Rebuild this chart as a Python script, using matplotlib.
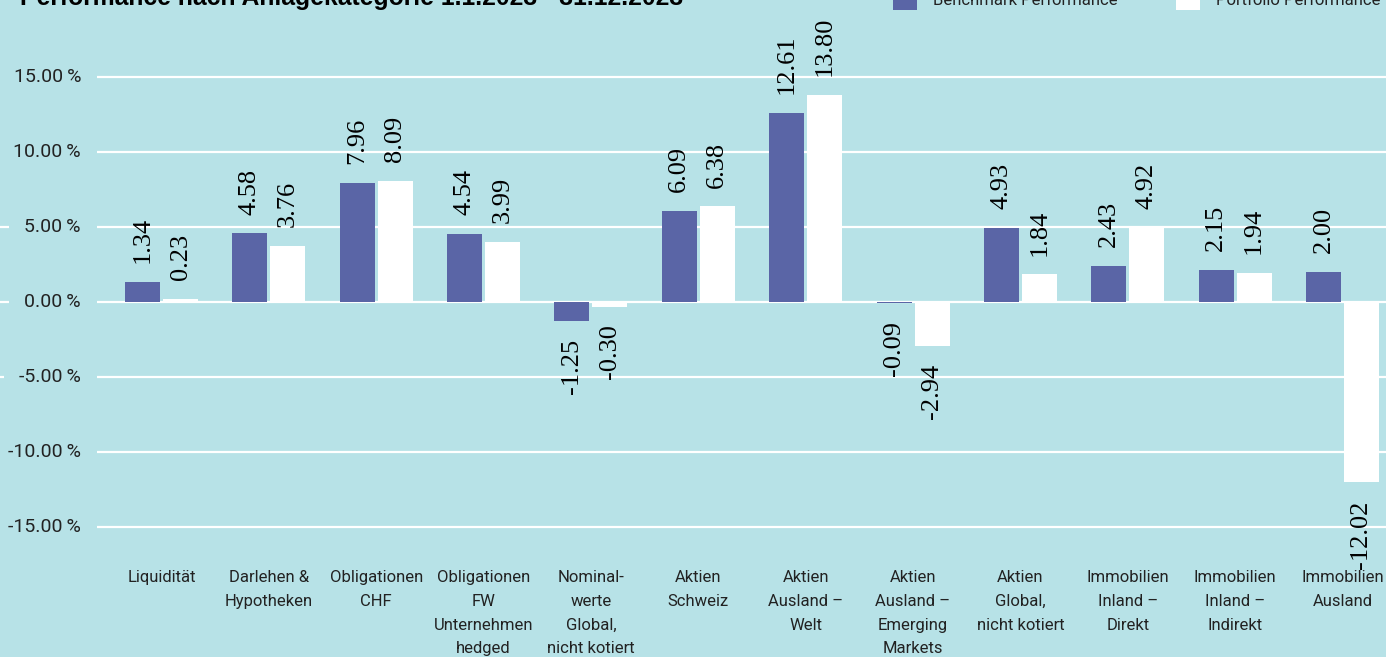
import matplotlib
matplotlib.use("Agg")
import matplotlib.pyplot as plt
from matplotlib.patches import Rectangle
import numpy as np

categories = [
    "Liquidität",
    "Darlehen &\nHypotheken",
    "Obligationen\nCHF",
    "Obligationen\nFW\nUnternehmen\nhedged",
    "Nominal-\nwerte\nGlobal,\nnicht kotiert",
    "Aktien\nSchweiz",
    "Aktien\nAusland –\nWelt",
    "Aktien\nAusland –\nEmerging\nMarkets",
    "Aktien\nGlobal,\nnicht kotiert",
    "Immobilien\nInland –\nDirekt",
    "Immobilien\nInland –\nIndirekt",
    "Immobilien\nAusland",
]
benchmark = [1.34, 4.58, 7.96, 4.54, -1.25, 6.09, 12.61, -0.09, 4.93, 2.43, 2.15, 2.00]
portfolio = [0.23, 3.76, 8.09, 3.99, -0.30, 6.38, 13.80, -2.94, 1.84, 4.92, 1.94, -12.02]
yticks = [15, 10, 5, 0, -5, -10, -15]
ytick_labels = ["15.00\u2009%", "10.00\u2009%", "5.00\u2009%", "0.00\u2009%",
                "-5.00\u2009%", "-10.00\u2009%", "-15.00\u2009%"]
title = "Performance nach Anlagekategorie 1.1.2023 - 31.12.2023"
legend_labels = ["Benchmark Performance", "Portfolio Performance"]

BG = "#b7e2e7"
DARK = "#5a65a6"
TXT = "#222222"
W, H = 1386, 657

fig = plt.figure(figsize=(W / 100, H / 100), dpi=100, facecolor=BG)
ax = fig.add_axes([0, 0, 1, 1], facecolor=BG)

px_per_unit_y = 15.0
zero_px = 302
x0_px = 161.5
step_px = 107.36
ax.set_ylim(-(H - zero_px) / px_per_unit_y, zero_px / px_per_unit_y)
ax.set_xlim(-x0_px / step_px, (W - x0_px) / step_px)
ax.axis("off")

x = np.arange(len(categories))
bw = 35 / step_px
off = 19 / step_px

# gridlines
for yt in yticks:
    ax.axhline(yt, color="white", lw=1.6, zorder=1)

b1 = ax.bar(x - off, benchmark, width=bw, color=DARK, zorder=3)
b2 = ax.bar(x + off, portfolio, width=bw, color="white", zorder=3)

for bars, vals in ((b1, benchmark), (b2, portfolio)):
    for rect, v in zip(bars, vals):
        cx = rect.get_x() + rect.get_width() / 2
        if v >= 0:
            ax.annotate(f"{v:.2f}", (cx, v), xytext=(0, 13.5), textcoords="offset points",
                        rotation=90, ha="center", va="bottom", fontsize=19,
                        family="Liberation Serif", color="black", zorder=4)
        else:
            ax.annotate(f"{v:.2f}", (cx, v), xytext=(0, -13), textcoords="offset points",
                        rotation=90, ha="center", va="top", fontsize=19,
                        family="Liberation Serif", color="black", zorder=4)

# y tick labels
for yt, lab in zip(yticks, ytick_labels):
    ax.text(81 / W, yt, lab, transform=ax.get_yaxis_transform(), ha="right", va="center",
            fontsize=14, family="Roboto", color=TXT, zorder=2,
            bbox=dict(boxstyle="square,pad=0.8", fc=BG, ec="none"))

# category labels
ylab = (zero_px - 570) / px_per_unit_y
for xi, cat in zip(x, categories):
    ax.text(xi, ylab, cat, ha="center", va="top", fontsize=12, family="Roboto",
            color=TXT, linespacing=1.73, zorder=4)

# title
fig.text(20 / W, 1 - 5 / H, title, ha="left", va="baseline", fontsize=17.8,
         fontweight="bold", family="Liberation Sans", color="black")

# legend
for lx, col, lab in ((893, DARK, legend_labels[0]), (1176, "white", legend_labels[1])):
    fig.patches.append(Rectangle((lx / W, 1 - 10 / H), 24 / W, 24 / H,
                                 transform=fig.transFigure, fc=col, ec="none"))
    fig.text((lx + 40) / W, 1 - 5 / H, lab, ha="left", va="baseline", fontsize=12,
             family="Roboto", color=TXT)

fig.savefig("out.png", dpi=100, facecolor=BG)
